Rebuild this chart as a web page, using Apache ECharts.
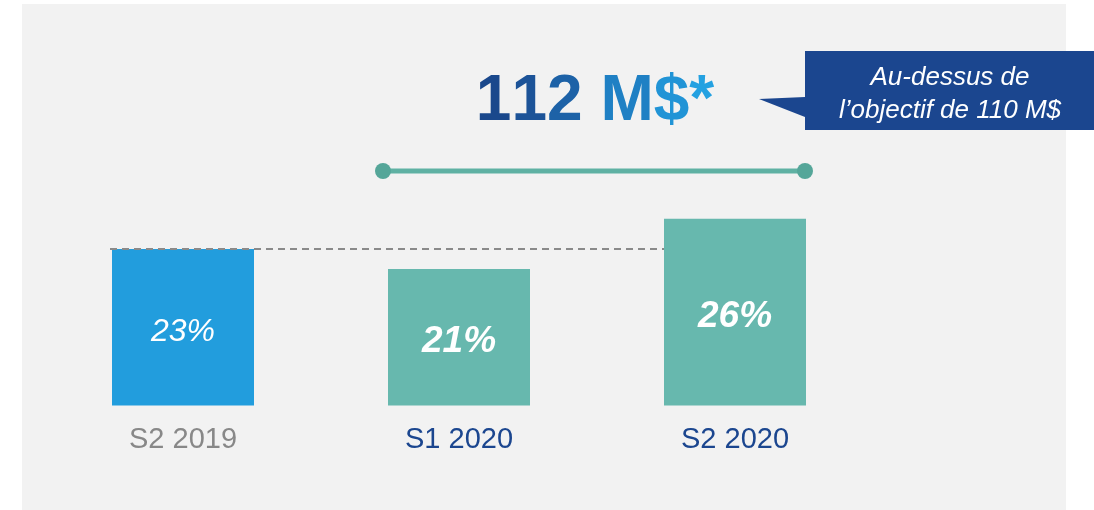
<!DOCTYPE html>
<html>
<head>
<meta charset="utf-8">
<title>112 M$</title>
<script src="https://cdn.jsdelivr.net/npm/echarts@6/dist/echarts.min.js"></script>
<style>
  html, body {
    margin: 0;
    padding: 0;
    background: #ffffff;
  }
  #main {
    width: 1094px;
    height: 510px;
  }
</style>
</head>
<body>
<div id="main"></div>
<script>
  // données du graphique
  var categories = ['S2 2019', 'S1 2020', 'S2 2020'];
  var values = [23, 21, 26];
  var headline = '112 M$*';
  var calloutText = 'Au-dessus de\nl’objectif de 110 M$';

  var FONT = '"Liberation Sans", Arial, sans-serif';
  var blue = '#229ddd';
  var teal = '#67b8ae';
  var navy = '#1b468f';

  // dégradé du titre : une couleur par caractère (zrender ne remplit pas le texte en dégradé)
  var headColors = ['#1a488c', '#1c5398', '#1d62a7', '#1e6fb4', '#1f80c4', '#2194d6', '#24a1e1'];
  var headRich = {};
  var headText = '';
  headline.split('').forEach(function (ch, i) {
    var key = 'c' + i;
    headRich[key] = { fill: headColors[i], font: 'bold 64px ' + FONT };
    headText += '{' + key + '|' + ch + '}';
  });

  var chart = echarts.init(document.getElementById('main'));

  var barData = values.map(function (v, i) {
    return {
      value: v,
      itemStyle: { color: i === 0 ? blue : teal },
      label: {
        fontWeight: i === 0 ? 'normal' : 'bold',
        fontSize: i === 0 ? 32 : 37
      }
    };
  });

  chart.setOption({
    animation: false,
    grid: {
      left: 45,
      right: 221,
      top: 178.6,
      bottom: 104.5
    },
    xAxis: {
      type: 'category',
      data: categories,
      axisLine: { show: false },
      axisTick: { show: false },
      axisLabel: {
        margin: 20,
        fontSize: 29,
        fontFamily: FONT,
        color: function (value, index) {
          return index === 0 ? '#888888' : navy;
        }
      }
    },
    yAxis: {
      type: 'value',
      min: 7.4,
      max: 30,
      show: false,
      splitLine: { show: false }
    },
    series: [
      {
        type: 'bar',
        barWidth: 142,
        z: 2,
        data: barData,
        label: {
          show: true,
          position: 'inside',
          offset: [0, 5],
          color: '#ffffff',
          fontStyle: 'italic',
          fontFamily: FONT,
          formatter: function (p) {
            return p.value + '%';
          }
        }
      }
    ]
  });

  // annotations, placées à partir des barres
  var p0 = chart.convertToPixel({ seriesIndex: 0 }, [0, values[0]]);
  var p2 = chart.convertToPixel({ seriesIndex: 0 }, [2, values[0]]);
  var half = 71;

  chart.setOption({
    graphic: [
      {
        id: 'panel',
        type: 'rect',
        z: -10,
        shape: { x: 22, y: 4, width: 1044, height: 520 },
        style: { fill: '#f2f2f2' }
      },
      {
        id: 'dash',
        type: 'line',
        z: 5,
        shape: { x1: p0[0] - half - 2, y1: p0[1], x2: p2[0] - half, y2: p2[1] },
        style: { stroke: '#8a8a8a', lineWidth: 2, lineDash: [7, 5] }
      },
      {
        id: 'headline',
        type: 'text',
        z: 5,
        x: 595,
        y: 102,
        style: {
          text: headText,
          rich: headRich,
          font: 'bold 64px ' + FONT,
          align: 'center',
          verticalAlign: 'middle'
        }
      },
      {
        id: 'bracket',
        type: 'line',
        z: 5,
        shape: { x1: 383, y1: 171, x2: 805, y2: 171 },
        style: { stroke: '#5fb1a3', lineWidth: 5 }
      },
      {
        id: 'dotL',
        type: 'circle',
        z: 6,
        shape: { cx: 383, cy: 171, r: 8 },
        style: { fill: '#55a699' }
      },
      {
        id: 'dotR',
        type: 'circle',
        z: 6,
        shape: { cx: 805, cy: 171, r: 8 },
        style: { fill: '#55a699' }
      },
      {
        id: 'callout',
        type: 'polygon',
        z: 5,
        shape: {
          points: [[805, 51], [1100, 51], [1100, 130], [805, 130], [805, 117], [759, 99], [805, 97]]
        },
        style: { fill: navy }
      },
      {
        id: 'calloutText',
        type: 'text',
        z: 6,
        x: 950,
        y: 94,
        style: {
          text: calloutText,
          font: 'italic 26px ' + FONT,
          lineHeight: 33,
          align: 'center',
          verticalAlign: 'middle',
          fill: '#ffffff'
        }
      }
    ]
  });
</script>
</body>
</html>
